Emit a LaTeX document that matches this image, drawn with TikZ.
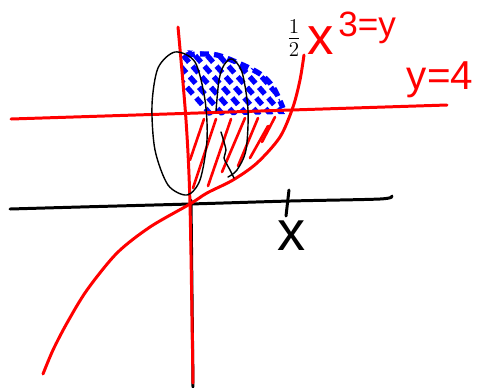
\documentclass[tikz,border=0pt]{standalone}
\usepackage{fontspec}
\setmainfont{Liberation Sans}
\usetikzlibrary{calc}

\begin{document}
\begin{tikzpicture}[
    x=0.02cm, y=-0.02cm,
    redpen/.style={draw=red, line width=1.7pt, line cap=round, line join=round},
    blackpen/.style={draw=black, line width=1.7pt, line cap=round, line join=round},
    thinpen/.style={draw=black, line width=0.8pt, line cap=round, line join=round},
    bluepen/.style={draw=blue, line width=3pt, dash pattern=on 5pt off 3pt},
    hatch/.style={draw=red, line width=1.5pt, line cap=round},
    redtext/.style={text=red, inner sep=0pt}
]
\useasboundingbox (0,0) rectangle (481,387);

% Axes
\draw[blackpen] plot[smooth] coordinates {(10,209) (80,207) (190,204) (290,201) (380,199) (392,196)};
\draw[blackpen] (191,200) -- (193,387);
\draw[blackpen] (289,190) -- (286,216);

% Blue region above y=4
\begin{scope}
    \clip plot[smooth] coordinates {(182,50) (217,54) (257,71) (274,87) (285,114)} -- (184,116) -- cycle;
    \foreach \i in {0,...,11}
        \draw[bluepen] ($(150,45)+(\i*12,0)$) -- ++(70,80);
\end{scope}
\draw[bluepen] plot[smooth] coordinates {(186,55) (217,55) (257,72) (273,87) (283,108)};

% Red curves
\draw[redpen] plot[smooth] coordinates {(178,27) (186,120) (190,205) (193,383)};
\draw[redpen] (11,119) -- (447,105);
\draw[redpen] plot[smooth] coordinates {(43,374) (53,350) (67,323) (87,290) (117,253) (150,227) (190,204) (207,193) (233,180) (257,163) (280,137) (293,107) (300,80) (304,55)};

% Hatching below y=4
\draw[hatch] (190,160) -- (204,119);
\draw[hatch] (193,188) -- (216,119);
\draw[hatch] (208,186) -- (231,119);
\draw[hatch] (222,172) -- (245,118);
\draw[hatch] (238,166) -- (258,118);
\draw[hatch] (250,158) -- (268,126);
\draw[hatch] (262,142) -- (275,117);

% Rotation loops
\draw[thinpen] plot[smooth cycle] coordinates {(175,52) (158,68) (152,105) (155,150) (168,185) (187,195) (200,180) (207,140) (205,100) (195,62)};
\draw[thinpen] plot[smooth] coordinates {(216,111) (219,80) (224,65) (232,59) (242,72) (248,110) (246,150) (237,170) (228,177)};
\draw[thinpen] plot[smooth] coordinates {(221,132) (226,150) (224,158) (230,170) (234,178)};

% Labels
\node[inner sep=0pt, font=\fontsize{17}{17}\selectfont] (half) at (294,38) {$\frac{1}{2}$};
\node[redtext, font=\fontsize{30}{30}\selectfont] (xcube) at (321,41) {x};
\node[redtext, font=\fontsize{20}{20}\selectfont, anchor=west] (cubeeq) at (338,28) {3=y};
\node[redtext, font=\fontsize{23}{23}\selectfont] (level) at (440,80) {y=4};
\node[inner sep=0pt, font=\fontsize{32}{32}\selectfont] (xaxis) at (292,236) {x};
\end{tikzpicture}
\end{document}
